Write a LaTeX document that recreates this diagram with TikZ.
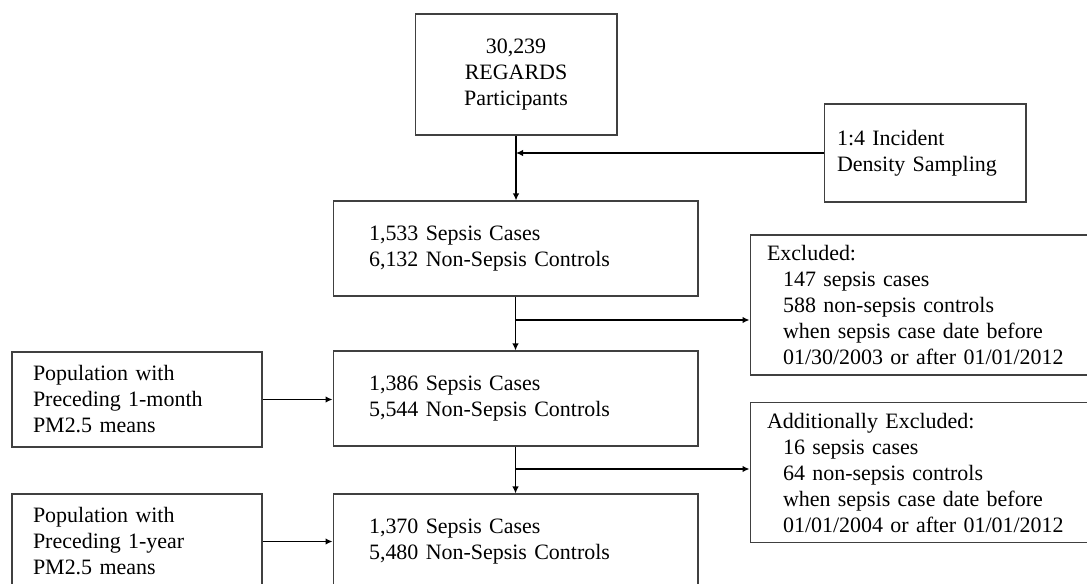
\documentclass[tikz,border=0pt]{standalone}
\usepackage{fontspec}
\setmainfont{Liberation Serif}
\usepackage{tikz}
\usetikzlibrary{positioning, arrows.meta}
\newcommand{\flowarrow}{-{Latex[length=1.4mm,width=1.3mm]}}
\newcommand{\ind}{\hspace*{0.32cm}}
\tikzset{
  box/.style={draw=black!75, line width=0.6pt, inner ysep=2pt,
    font=\fontsize{12.5}{14.8}\selectfont},
  casebox/.style={box, minimum width=7.3cm, minimum height=1.9cm,
    inner xsep=0.72cm, text width=5.86cm, align=left},
  popbox/.style={box, minimum width=5cm, minimum height=1.9cm,
    inner xsep=0.42cm, text width=4.16cm, align=left},
  exclbox/.style={box, minimum width=7cm, minimum height=2.8cm,
    inner xsep=0.34cm, text width=6.32cm, align=left},
  link/.style={line width=0.9pt}
}

\begin{document}
\begin{tikzpicture}[x=0.02cm, y=-0.02cm]
    \useasboundingbox (0,0) rectangle (1087,584);
    \clip (0,0) rectangle (1087,584);

    % main column
    \node[box, minimum width=4.04cm, minimum height=2.42cm, align=center]
        (part) at (516,74.5) {30,239\\REGARDS\\Participants};
    \node[casebox] (cases1) at (515.5,248.5)
        {1,533 Sepsis Cases\\6,132 Non-Sepsis Controls};
    \node[casebox] (cases2) at (515.5,398.5)
        {1,386 Sepsis Cases\\5,544 Non-Sepsis Controls};
    \node[casebox] (cases3) at (515.5,541.5)
        {1,370 Sepsis Cases\\5,480 Non-Sepsis Controls};

    % side boxes
    \node[box, minimum width=4.04cm, minimum height=1.96cm,
        inner xsep=0.26cm, text width=3.52cm, align=left]
        (sampl) at (925,153) {1:4 Incident\\Density Sampling};
    \node[exclbox] (excl1) at (925,305)
        {Excluded:\\\ind 147 sepsis cases\\\ind 588 non-sepsis controls\\
         \ind when sepsis case date before\\\ind 01/30/2003 or after 01/01/2012};
    \node[exclbox] (excl2) at (925,472.5)
        {Additionally Excluded:\\\ind 16 sepsis cases\\\ind 64 non-sepsis controls\\
         \ind when sepsis case date before\\\ind 01/01/2004 or after 01/01/2012};
    \node[popbox] (pop1) at (137,399.5)
        {Population with\\Preceding 1-month\\PM2.5 means};
    \node[popbox] (pop2) at (137,541.5)
        {Population with\\Preceding 1-year\\PM2.5 means};

    % connectors
    \coordinate (join) at (part.south |- sampl.west);
    \coordinate (split1) at (515.5,320);
    \coordinate (split2) at (515.5,469);
    \draw[link, \flowarrow] (part.south) -- (part.south |- cases1.north);
    \draw[link, \flowarrow] (sampl.west) -- (join);
    \draw[link, \flowarrow] (cases1.south) -- (cases2.north);
    \draw[link, \flowarrow] (split1) -- (split1 -| excl1.west);
    \draw[link, \flowarrow] (cases2.south) -- (cases3.north);
    \draw[link, \flowarrow] (split2) -- (split2 -| excl2.west);
    \draw[link, \flowarrow] (pop1.east) -- (pop1.east -| cases2.west);
    \draw[link, \flowarrow] (pop2.east) -- (pop2.east -| cases3.west);
\end{tikzpicture}
\end{document}
